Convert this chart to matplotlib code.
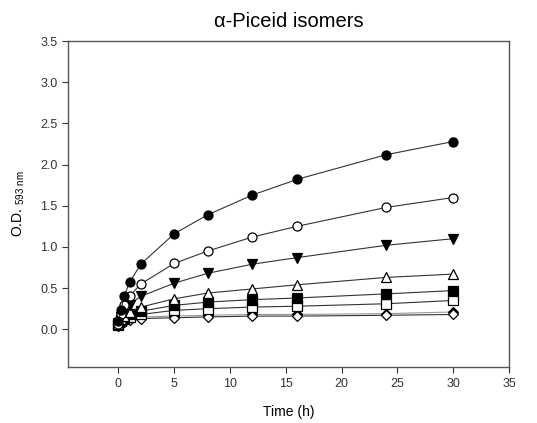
import matplotlib.pyplot as plt
import numpy as np

plt.rcParams['font.family'] = ['Liberation Sans', 'DejaVu Sans']

# sampling times (h)
time = [0, 0.25, 0.5, 1, 2, 5, 8, 12, 16, 24, 30]

# O.D. 593 nm for each isomer series
filled_circle = [0.10, 0.24, 0.40, 0.57, 0.79, 1.16, 1.39, 1.63, 1.82, 2.12, 2.28]
open_circle = [0.07, 0.18, 0.29, 0.40, 0.55, 0.80, 0.95, 1.12, 1.25, 1.48, 1.60]
filled_tri_down = [0.08, 0.15, 0.22, 0.30, 0.40, 0.56, 0.68, 0.79, 0.87, 1.02, 1.10]
open_tri_up = [0.06, 0.12, 0.16, 0.21, 0.27, 0.37, 0.44, 0.49, 0.54, 0.63, 0.67]
filled_square = [0.07, 0.11, 0.14, 0.18, 0.22, 0.29, 0.33, 0.36, 0.38, 0.43, 0.47]
open_square = [0.05, 0.10, 0.12, 0.15, 0.18, 0.23, 0.25, 0.27, 0.28, 0.31, 0.35]
filled_diamond = [0.05, 0.08, 0.10, 0.13, 0.15, 0.16, 0.17, 0.18, 0.18, 0.19, 0.21]
open_diamond = [0.04, 0.07, 0.09, 0.11, 0.13, 0.14, 0.15, 0.16, 0.16, 0.17, 0.18]

plt.figure(figsize=(5.37, 4.23), dpi=100)
ax = plt.axes([0.127, 0.132, 0.821, 0.771])

    # (values, marker, face colour, line colour)
series = [
    (filled_diamond, 'D', 'black', '#999999'),
    (open_diamond, 'D', 'white', '#333333'),
    (open_square, 's', 'white', '#333333'),
    (filled_square, 's', 'black', '#333333'),
    (open_tri_up, '^', 'white', '#333333'),
    (filled_tri_down, 'v', 'black', '#333333'),
    (open_circle, 'o', 'white', '#333333'),
    (filled_circle, 'o', 'black', '#333333'),
]
for vals, mk, fc, lc in series:
    ms = 5.5 if mk == 'D' else 6.5
    ax.plot(time, vals, color=lc, lw=0.8, marker=mk, ms=ms,
            mfc=fc, mec='black', mew=0.9)

    # small error bar on the last point of the top curve
ax.errorbar([30], [filled_circle[-1]], yerr=[0.04], fmt='none',
            ecolor='black', elinewidth=0.8, capsize=2.5)

ax.set_xlim(-4.5, 35)
ax.set_ylim(-0.46, 3.5)
ax.set_xticks(np.arange(0, 36, 5))
ax.set_yticks(np.arange(0, 3.6, 0.5))
ax.set_yticklabels(['%.1f' % v for v in np.arange(0, 3.6, 0.5)])
ax.tick_params(direction='out', length=4, width=0.8, labelsize=9, colors='#333333')
for s in ax.spines.values():
    s.set_linewidth(1.0)
    s.set_color('#555555')

ax.set_xlabel('Time (h)', fontsize=10, labelpad=11)
ax.set_ylabel('O.D. $_{\\mathregular{593\\ nm}}$', fontsize=10, labelpad=10)
ax.set_title('α-Piceid isomers', fontsize=14.5, pad=10)

plt.savefig('out.png', dpi=100)
